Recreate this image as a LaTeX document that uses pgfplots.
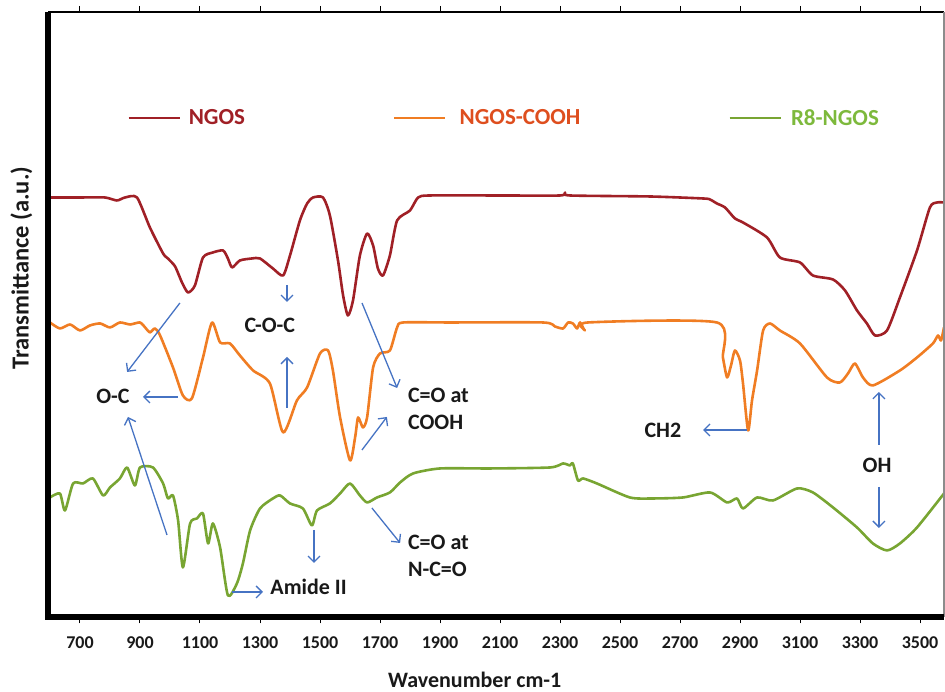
\documentclass[border=0pt]{standalone}
\usepackage{pgfplots}
\pgfplotsset{compat=1.18}
\usepackage{pgfplotstable}
\usepackage{fontspec}
\setmainfont{Carlito}
\usetikzlibrary{arrows.meta}

\definecolor{ngos}{RGB}{160,32,38}
\definecolor{cooh}{RGB}{240,125,35}
\definecolor{coohtext}{RGB}{222,78,30}
\definecolor{rgreen}{RGB}{120,165,50}
\definecolor{rgreentext}{RGB}{125,185,60}
\definecolor{arr}{RGB}{70,115,195}
\definecolor{lbl}{RGB}{25,25,25}

% FTIR spectra, transmittance in arbitrary units (curves offset vertically)
\pgfplotstableread{
wn t
600 420
700 420
783 420
823 417
850 420
890 420
933 390
977 364
993 359
1017 351
1040 335
1060 325
1083 332
1110 360
1143 365
1177 367
1193 359
1207 350
1233 357
1273 359
1300 359
1343 349
1377 342
1400 362
1433 397
1457 414
1477 420
1510 420
1533 402
1560 357
1577 322
1593 302
1610 317
1633 362
1657 384
1677 372
1693 349
1710 342
1733 362
1757 397
1800 407
1827 420
1867 422
2100 422
2300 422
2317 425
2333 422
2600 421
2777 419
2800 418
2823 414
2850 410
2883 399
2910 395
2990 380
3033 360
3100 355
3143 342
3210 338
3250 327
3290 307
3323 294
3350 282
3390 287
3433 320
3490 367
3533 410
3557 415
3580 415
}\ngosdata

\pgfplotstableread{
wn t
600 295
633 289
667 293
700 287
733 292
767 294
800 290
833 295
867 293
900 295
920 289
933 285
950 289
967 282
1010 250
1043 222
1073 219
1110 260
1140 295
1167 275
1200 274
1233 262
1277 247
1333 234
1377 185
1423 217
1457 230
1500 264
1527 267
1543 247
1567 200
1600 157
1617 180
1627 200
1643 190
1657 200
1677 250
1700 264
1733 267
1757 290
1777 295
1933 295
2243 295
2283 291
2310 289
2327 295
2343 294
2357 289
2367 295
2383 287
2393 295
2823 295
2843 260
2857 240
2870 252
2883 267
2900 257
2910 234
2927 187
2940 217
2957 247
2977 287
3000 294
3033 287
3100 274
3190 240
3233 235
3260 244
3283 254
3310 240
3343 232
3433 247
3490 260
3543 274
3560 282
3570 277
3580 290
}\cooh

\pgfplotstableread{
wn t
600 120
633 124
650 107
677 134
710 134
743 139
777 122
800 130
833 139
857 150
883 132
900 150
943 150
977 134
993 119
1010 122
1027 97
1043 50
1067 94
1090 99
1110 104
1127 74
1143 94
1167 70
1193 22
1223 34
1243 54
1267 87
1300 109
1343 119
1367 122
1400 114
1443 109
1473 92
1490 107
1533 114
1567 124
1600 134
1633 122
1657 115
1690 120
1733 125
1767 135
1810 144
1900 149
2067 149
2267 150
2310 154
2333 152
2343 154
2360 137
2377 139
2423 134
2533 120
2610 119
2710 120
2800 125
2857 115
2890 119
2910 109
2957 120
3010 117
3090 129
3143 125
3210 110
3290 90
3343 74
3390 67
3433 74
3490 90
3580 124
}\reight

\begin{document}
\begin{tikzpicture}[
  lab/.style={font=\bfseries\fontsize{22}{27}\selectfont, text=lbl, inner sep=0pt},
  ann/.style={arr, line width=1.3pt, -{Straight Barb[length=6pt,width=12pt,line width=1.3pt]}}
]
\begin{axis}[
  name=ax,
  scale only axis,
  width=895.5pt, height=605.5pt,
  xmin=595, xmax=3580,
  ymin=0, ymax=605.5,
  xtick={700,900,...,3500},
  ytick=\empty,
  tick align=outside,
  major tick length=6pt,
  xtick style={black, line width=1pt},
  axis line style={draw=none},
  /pgf/number format/.cd, set thousands separator={}, assume math mode=true,
  /pgfplots/.cd,
  xticklabel style={font=\bfseries\fontsize{18}{20}\selectfont, text=lbl, yshift=-10pt},
  xlabel={Wavenumber cm-1},
  ylabel={Transmittance (a.u.)},
  xlabel style={font=\bfseries\fontsize{22}{26}\selectfont, text=lbl,
    at={(rel axis cs:0.476,0)}, anchor=center, yshift=-62.5pt},
  ylabel style={font=\bfseries\fontsize{24.5}{28}\selectfont, text=lbl,
    at={(rel axis cs:0,0.577)}, anchor=center, yshift=27pt},
  clip=false,
  legend columns=3,
  legend style={at={(rel axis cs:0.0877,0.825)}, anchor=west, draw=none, fill=none,
    inner sep=0pt, font=\bfseries\fontsize{23}{26}\selectfont,
    /tikz/every even column/.append style={column sep=146pt}},
  legend image code/.code={\draw[#1] (0pt,0pt) -- (51pt,0pt);},
]
\addplot[ngos, line width=2.6pt, line join=round, smooth, tension=0.4] table[x=wn, y=t] {\ngosdata};
\addlegendentry{\hspace{6pt}\textcolor{ngos}{NGOS}}
\addplot[cooh, line width=2.6pt, line join=round, smooth, tension=0.4] table[x=wn, y=t] {\cooh};
\addlegendentry{\hspace{11pt}\textcolor{coohtext}{NGOS-COOH}}
\addplot[rgreen, line width=2.6pt, line join=round, smooth, tension=0.4] table[x=wn, y=t] {\reight};
\addlegendentry{\hspace{7pt}\textcolor{rgreentext}{R8-NGOS}}

% band assignments
\node[lab] at (axis cs:1333,292.5) {C-O-C};
\node[lab] at (axis cs:810,221.5) {O-C};
\node[lab, align=left, anchor=west] at (axis cs:1793,209) {C=O at\\COOH};
\node[lab] at (axis cs:2643,187.5) {CH2};
\node[lab] at (axis cs:3357,152.5) {OH};
\node[lab] at (axis cs:1462,30.5) {Amide II};
\node[lab, align=left, anchor=west] at (axis cs:1793,61.5) {C=O at\\N-C=O};

\draw[ann] (axis cs:1033,314.5) -- (axis cs:857,245.5);
\draw[ann] (axis cs:1027,220.5) -- (axis cs:910,220.5);
\draw[ann] (axis cs:990,82.5) -- (axis cs:860,200.5);
\draw[ann] (axis cs:1390,332.5) -- (axis cs:1390,315.5);
\draw[ann] (axis cs:1390,209.5) -- (axis cs:1390,260.5);
\draw[ann] (axis cs:1640,314.5) -- (axis cs:1757,229.5);
\draw[ann] (axis cs:1640,167.5) -- (axis cs:1723,200.5);
\draw[ann] (axis cs:2923,187.5) -- (axis cs:2777,187.5);
\draw[ann] (axis cs:3363,172.5) -- (axis cs:3363,225.5);
\draw[ann] (axis cs:3363,130.5) -- (axis cs:3363,89.5);
\draw[ann] (axis cs:1207,25.5) -- (axis cs:1310,25.5);
\draw[ann] (axis cs:1480,87.5) -- (axis cs:1480,54.5);
\draw[ann] (axis cs:1673,109.5) -- (axis cs:1767,74.5);

% frame: heavy left and bottom, light top and right
\draw[black, line width=2.5pt] (rel axis cs:0,1) -- (rel axis cs:1,1);
\draw[black!45, line width=1.2pt] (rel axis cs:1,1) -- (rel axis cs:1,0);
\draw[black, line width=6pt, line join=miter] (rel axis cs:0,1) -- (rel axis cs:0,0) -- (rel axis cs:1,0);
\end{axis}
\pgfresetboundingbox
\path ([xshift=-48.5pt,yshift=-74.5pt]ax.south west) rectangle ([xshift=1pt,yshift=12pt]ax.north east);
\end{tikzpicture}
\end{document}
